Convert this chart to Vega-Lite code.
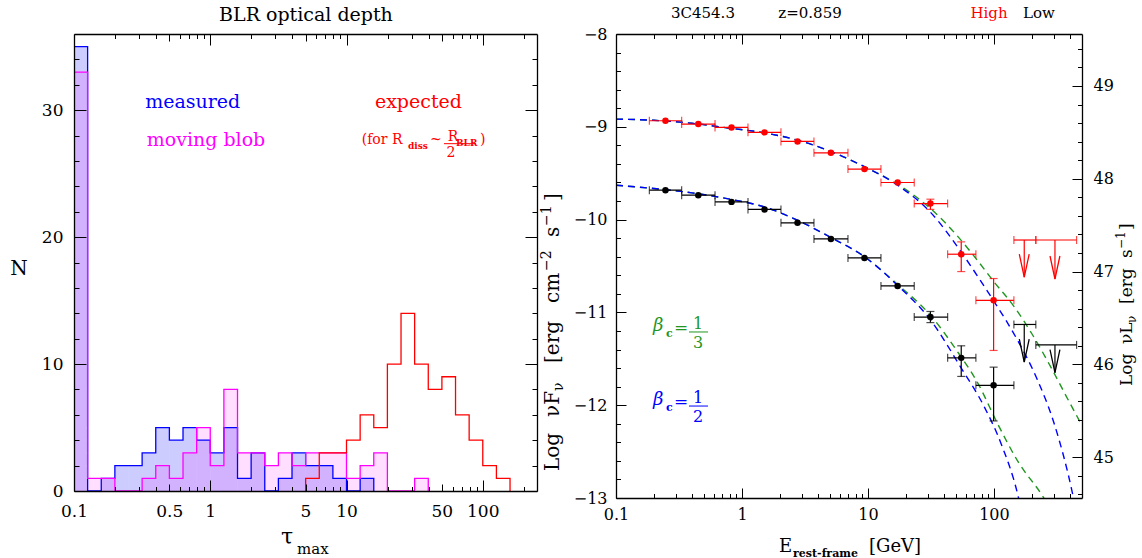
{
  "$schema": "https://vega.github.io/schema/vega-lite/v6.json",
  "background": "white",
  "padding": {"left": 10, "top": 5, "right": 5, "bottom": 5},
  "autosize": {"type": "pad"},
  "data": {"values": [{}]},
  "config": {"view": {"stroke": null}},
  "bounds": "flush",
  "spacing": 79,
  "datasets": {
    "hist": [
      {"s":"measured","t0":0.1,"t1":0.1259,"n":35},
      {"s":"measured","t0":0.1259,"t1":0.1585,"n":0},
      {"s":"measured","t0":0.1585,"t1":0.1995,"n":1},
      {"s":"measured","t0":0.1995,"t1":0.2512,"n":2},
      {"s":"measured","t0":0.2512,"t1":0.3162,"n":2},
      {"s":"measured","t0":0.3162,"t1":0.3981,"n":3},
      {"s":"measured","t0":0.3981,"t1":0.5012,"n":5},
      {"s":"measured","t0":0.5012,"t1":0.631,"n":4},
      {"s":"measured","t0":0.631,"t1":0.7943,"n":5},
      {"s":"measured","t0":0.7943,"t1":1,"n":4},
      {"s":"measured","t0":1,"t1":1.259,"n":3},
      {"s":"measured","t0":1.259,"t1":1.585,"n":5},
      {"s":"measured","t0":1.585,"t1":1.995,"n":1},
      {"s":"measured","t0":1.995,"t1":2.512,"n":3},
      {"s":"measured","t0":2.512,"t1":3.162,"n":0},
      {"s":"measured","t0":3.162,"t1":3.981,"n":1},
      {"s":"measured","t0":3.981,"t1":5.012,"n":3},
      {"s":"measured","t0":5.012,"t1":6.31,"n":2},
      {"s":"measured","t0":6.31,"t1":7.943,"n":2},
      {"s":"measured","t0":7.943,"t1":10,"n":1},
      {"s":"measured","t0":10,"t1":12.59,"n":0},
      {"s":"measured","t0":12.59,"t1":15.85,"n":1},
      {"s":"measured","t0":15.85,"t1":15.85,"n":0},
      {"s":"moving blob","t0":0.1,"t1":0.1259,"n":33},
      {"s":"moving blob","t0":0.1259,"t1":0.1585,"n":1},
      {"s":"moving blob","t0":0.1585,"t1":0.1995,"n":1},
      {"s":"moving blob","t0":0.1995,"t1":0.2512,"n":0},
      {"s":"moving blob","t0":0.2512,"t1":0.3162,"n":0},
      {"s":"moving blob","t0":0.3162,"t1":0.3981,"n":1},
      {"s":"moving blob","t0":0.3981,"t1":0.5012,"n":2},
      {"s":"moving blob","t0":0.5012,"t1":0.631,"n":1},
      {"s":"moving blob","t0":0.631,"t1":0.7943,"n":3},
      {"s":"moving blob","t0":0.7943,"t1":1,"n":5},
      {"s":"moving blob","t0":1,"t1":1.259,"n":2},
      {"s":"moving blob","t0":1.259,"t1":1.585,"n":8},
      {"s":"moving blob","t0":1.585,"t1":1.995,"n":3},
      {"s":"moving blob","t0":1.995,"t1":2.512,"n":3},
      {"s":"moving blob","t0":2.512,"t1":3.162,"n":2},
      {"s":"moving blob","t0":3.162,"t1":3.981,"n":3},
      {"s":"moving blob","t0":3.981,"t1":5.012,"n":2},
      {"s":"moving blob","t0":5.012,"t1":6.31,"n":3},
      {"s":"moving blob","t0":6.31,"t1":7.943,"n":3},
      {"s":"moving blob","t0":7.943,"t1":10,"n":3},
      {"s":"moving blob","t0":10,"t1":12.59,"n":1},
      {"s":"moving blob","t0":12.59,"t1":15.85,"n":2},
      {"s":"moving blob","t0":15.85,"t1":19.95,"n":3},
      {"s":"moving blob","t0":19.95,"t1":25.12,"n":0},
      {"s":"moving blob","t0":25.12,"t1":31.62,"n":0},
      {"s":"moving blob","t0":31.62,"t1":39.81,"n":1},
      {"s":"moving blob","t0":39.81,"t1":39.81,"n":0},
      {"s":"expected","t0":5.012,"t1":5.012,"n":0},
      {"s":"expected","t0":5.012,"t1":6.31,"n":1},
      {"s":"expected","t0":6.31,"t1":7.943,"n":3},
      {"s":"expected","t0":7.943,"t1":10,"n":3},
      {"s":"expected","t0":10,"t1":12.59,"n":4},
      {"s":"expected","t0":12.59,"t1":15.85,"n":6},
      {"s":"expected","t0":15.85,"t1":19.95,"n":5},
      {"s":"expected","t0":19.95,"t1":25.12,"n":10},
      {"s":"expected","t0":25.12,"t1":31.62,"n":14},
      {"s":"expected","t0":31.62,"t1":39.81,"n":10},
      {"s":"expected","t0":39.81,"t1":50.12,"n":8},
      {"s":"expected","t0":50.12,"t1":63.1,"n":9},
      {"s":"expected","t0":63.1,"t1":79.43,"n":6},
      {"s":"expected","t0":79.43,"t1":100,"n":4},
      {"s":"expected","t0":100,"t1":125.9,"n":2},
      {"s":"expected","t0":125.9,"t1":158.5,"n":1},
      {"s":"expected","t0":158.5,"t1":158.5,"n":0}
    ],
    "pts": [
      {"st":"High","E":0.247,"lo":0.184,"hi":0.332,"v":-8.935},
      {"st":"High","E":0.45,"lo":0.332,"hi":0.611,"v":-8.971},
      {"st":"High","E":0.826,"lo":0.611,"hi":1.116,"v":-9.007},
      {"st":"High","E":1.51,"lo":1.116,"hi":2.039,"v":-9.06},
      {"st":"High","E":2.76,"lo":2.039,"hi":3.727,"v":-9.158},
      {"st":"High","E":5.08,"lo":3.727,"hi":6.938,"v":-9.28},
      {"st":"High","E":9.38,"lo":6.938,"hi":12.68,"v":-9.456},
      {"st":"High","E":17.2,"lo":12.68,"hi":23.3,"v":-9.6},
      {"st":"High","E":31.3,"lo":23.3,"hi":42.9,"v":-9.827,"vlo":-9.89,"vhi":-9.78},
      {"st":"High","E":55,"lo":42.9,"hi":71.9,"v":-10.373,"vlo":-10.56,"vhi":-10.24},
      {"st":"High","E":99.4,"lo":71.9,"hi":144,"v":-10.87,"vlo":-11.41,"vhi":-10.635},
      {"st":"Low","E":0.247,"lo":0.184,"hi":0.332,"v":-9.683},
      {"st":"Low","E":0.45,"lo":0.332,"hi":0.611,"v":-9.737},
      {"st":"Low","E":0.826,"lo":0.611,"hi":1.116,"v":-9.809},
      {"st":"Low","E":1.51,"lo":1.116,"hi":2.039,"v":-9.89},
      {"st":"Low","E":2.76,"lo":2.039,"hi":3.727,"v":-10.035},
      {"st":"Low","E":5.08,"lo":3.727,"hi":6.938,"v":-10.208},
      {"st":"Low","E":9.38,"lo":6.938,"hi":12.68,"v":-10.413},
      {"st":"Low","E":17.2,"lo":12.68,"hi":23.3,"v":-10.715},
      {"st":"Low","E":31.3,"lo":23.3,"hi":42.9,"v":-11.05,"vlo":-11.11,"vhi":-10.99},
      {"st":"Low","E":55,"lo":42.9,"hi":71.9,"v":-11.49,"vlo":-11.69,"vhi":-11.36},
      {"st":"Low","E":99.4,"lo":71.9,"hi":144,"v":-11.786,"vlo":-12.17,"vhi":-11.59}
    ],
    "ul": [
      {"st":"High","E":174,"lo":144,"hi":215,"v":-10.22,"tip":-10.62},
      {"st":"High","E":305,"lo":215,"hi":453,"v":-10.22,"tip":-10.64},
      {"st":"Low","E":174,"lo":144,"hi":215,"v":-11.13,"tip":-11.535},
      {"st":"Low","E":305,"lo":215,"hi":453,"v":-11.35,"tip":-11.65}
    ],
    "curves": [
      {"m":"1/3","st":"High","E":0.1,"v":-8.917},
      {"m":"1/3","st":"High","E":0.2,"v":-8.93},
      {"m":"1/3","st":"High","E":0.4,"v":-8.962},
      {"m":"1/3","st":"High","E":0.8,"v":-9.015},
      {"m":"1/3","st":"High","E":1.5,"v":-9.065},
      {"m":"1/3","st":"High","E":2.75,"v":-9.143},
      {"m":"1/3","st":"High","E":5.08,"v":-9.266},
      {"m":"1/3","st":"High","E":9.38,"v":-9.43},
      {"m":"1/3","st":"High","E":17.2,"v":-9.62},
      {"m":"1/3","st":"High","E":31.3,"v":-9.88},
      {"m":"1/3","st":"High","E":50,"v":-10.16},
      {"m":"1/3","st":"High","E":75,"v":-10.45},
      {"m":"1/3","st":"High","E":100,"v":-10.67},
      {"m":"1/3","st":"High","E":145,"v":-10.94},
      {"m":"1/3","st":"High","E":200,"v":-11.23},
      {"m":"1/3","st":"High","E":283,"v":-11.59},
      {"m":"1/3","st":"High","E":384,"v":-11.93},
      {"m":"1/3","st":"High","E":500,"v":-12.22},
      {"m":"1/3","st":"Low","E":0.1,"v":-9.63},
      {"m":"1/3","st":"Low","E":0.2,"v":-9.665},
      {"m":"1/3","st":"Low","E":0.4,"v":-9.712},
      {"m":"1/3","st":"Low","E":0.8,"v":-9.78},
      {"m":"1/3","st":"Low","E":1.5,"v":-9.863},
      {"m":"1/3","st":"Low","E":2.75,"v":-10.006},
      {"m":"1/3","st":"Low","E":5.08,"v":-10.193},
      {"m":"1/3","st":"Low","E":9.38,"v":-10.4},
      {"m":"1/3","st":"Low","E":17.2,"v":-10.7},
      {"m":"1/3","st":"Low","E":31.3,"v":-11.03},
      {"m":"1/3","st":"Low","E":50,"v":-11.4},
      {"m":"1/3","st":"Low","E":75,"v":-11.77},
      {"m":"1/3","st":"Low","E":107,"v":-12.2},
      {"m":"1/3","st":"Low","E":154,"v":-12.6},
      {"m":"1/3","st":"Low","E":249,"v":-13.0},
      {"m":"1/3","st":"Low","E":270,"v":-13.08},
      {"m":"1/2","st":"High","E":0.1,"v":-8.917},
      {"m":"1/2","st":"High","E":0.2,"v":-8.93},
      {"m":"1/2","st":"High","E":0.4,"v":-8.962},
      {"m":"1/2","st":"High","E":0.8,"v":-9.015},
      {"m":"1/2","st":"High","E":1.5,"v":-9.065},
      {"m":"1/2","st":"High","E":2.75,"v":-9.143},
      {"m":"1/2","st":"High","E":5.08,"v":-9.266},
      {"m":"1/2","st":"High","E":9.38,"v":-9.43},
      {"m":"1/2","st":"High","E":17.2,"v":-9.63},
      {"m":"1/2","st":"High","E":31.3,"v":-9.92},
      {"m":"1/2","st":"High","E":55,"v":-10.35},
      {"m":"1/2","st":"High","E":75,"v":-10.62},
      {"m":"1/2","st":"High","E":100,"v":-10.88},
      {"m":"1/2","st":"High","E":154,"v":-11.3},
      {"m":"1/2","st":"High","E":222,"v":-11.73},
      {"m":"1/2","st":"High","E":301,"v":-12.2},
      {"m":"1/2","st":"High","E":421,"v":-12.955},
      {"m":"1/2","st":"High","E":440,"v":-13.08},
      {"m":"1/2","st":"Low","E":0.1,"v":-9.63},
      {"m":"1/2","st":"Low","E":0.2,"v":-9.665},
      {"m":"1/2","st":"Low","E":0.4,"v":-9.712},
      {"m":"1/2","st":"Low","E":0.8,"v":-9.78},
      {"m":"1/2","st":"Low","E":1.5,"v":-9.863},
      {"m":"1/2","st":"Low","E":2.75,"v":-10.006},
      {"m":"1/2","st":"Low","E":5.08,"v":-10.193},
      {"m":"1/2","st":"Low","E":9.38,"v":-10.4},
      {"m":"1/2","st":"Low","E":17.2,"v":-10.71},
      {"m":"1/2","st":"Low","E":31.3,"v":-11.08},
      {"m":"1/2","st":"Low","E":55,"v":-11.6},
      {"m":"1/2","st":"Low","E":84,"v":-12.02},
      {"m":"1/2","st":"Low","E":114,"v":-12.415},
      {"m":"1/2","st":"Low","E":154,"v":-12.955},
      {"m":"1/2","st":"Low","E":160,"v":-13.05}
    ]
  },
  "hconcat": [
    {
      "width": 463,
      "height": 457,
      "layer": [
        {
          "layer": [
            {
              "data": {"name": "hist"},
              "transform": [{"filter": "datum.s == 'measured'"}],
              "mark": {"type": "rect", "fill": "#0000ff", "fillOpacity": 0.2, "strokeWidth": 0},
              "encoding": {
                "x": {"field": "t0", "type": "quantitative", "scale": {"type": "log", "domain": [0.1, 250], "nice": false}, "axis": null},
                "x2": {"field": "t1"},
                "y": {"field": "n", "type": "quantitative", "scale": {"domain": [0, 36], "nice": false, "zero": false}, "axis": null},
                "y2": {"datum": 0}
              }
            },
            {
              "data": {"name": "hist"},
              "transform": [{"filter": "datum.s == 'moving blob'"}],
              "mark": {"type": "rect", "fill": "#ff00ff", "fillOpacity": 0.13, "strokeWidth": 0},
              "encoding": {
                "x": {"field": "t0", "type": "quantitative", "axis": null},
                "x2": {"field": "t1"},
                "y": {"field": "n", "type": "quantitative", "axis": null},
                "y2": {"datum": 0}
              }
            },
            {
              "data": {"name": "hist"},
              "mark": {"type": "line", "interpolate": "step-after", "strokeWidth": 1.3},
              "encoding": {
                "x": {"field": "t0", "type": "quantitative", "axis": null},
                "y": {"field": "n", "type": "quantitative", "axis": null},
                "color": {"field": "s", "type": "nominal", "scale": {"domain": ["measured", "moving blob", "expected"], "range": ["#0000ff", "#ff00ff", "#ff0000"]}, "legend": null}
              }
            },
            {"mark": {"type": "text", "text": "BLR optical depth", "font": "DejaVu Serif", "fontSize": 19, "color": "black", "align": "center", "baseline": "alphabetic"}, "encoding": {"x": {"datum": 5.04, "axis": null}, "y": {"datum": 37.05, "axis": null}}},
            {"mark": {"type": "text", "text": "measured", "font": "DejaVu Serif", "fontSize": 19, "color": "#0000ff", "align": "center", "baseline": "alphabetic"}, "encoding": {"x": {"datum": 0.743, "axis": null}, "y": {"datum": 30.15, "axis": null}}},
            {"mark": {"type": "text", "text": "moving blob", "font": "DejaVu Serif", "fontSize": 19, "color": "#ff00ff", "align": "center", "baseline": "alphabetic"}, "encoding": {"x": {"datum": 0.93, "axis": null}, "y": {"datum": 27.18, "axis": null}}},
            {"mark": {"type": "text", "text": "expected", "font": "DejaVu Serif", "fontSize": 19, "color": "#ff0000", "align": "center", "baseline": "alphabetic"}, "encoding": {"x": {"datum": 33.7, "axis": null}, "y": {"datum": 30.17, "axis": null}}},
            {"mark": {"type": "text", "text": "(for R", "font": "DejaVu Serif", "fontSize": 14, "color": "#ff0000", "align": "left", "baseline": "alphabetic"}, "encoding": {"x": {"datum": 12.92, "axis": null}, "y": {"datum": 27.31, "axis": null}}},
            {"mark": {"type": "text", "text": "diss", "font": "DejaVu Serif", "fontSize": 9, "fontWeight": "bold", "color": "#ff0000", "align": "left", "baseline": "alphabetic"}, "encoding": {"x": {"datum": 28.3, "axis": null}, "y": {"datum": 26.94, "axis": null}}},
            {"mark": {"type": "text", "text": "~", "font": "DejaVu Serif", "fontSize": 14, "color": "#ff0000", "align": "left", "baseline": "alphabetic"}, "encoding": {"x": {"datum": 41.0, "axis": null}, "y": {"datum": 27.34, "axis": null}}},
            {"mark": {"type": "text", "text": "R", "font": "DejaVu Serif", "fontSize": 14, "color": "#ff0000", "align": "left", "baseline": "alphabetic"}, "encoding": {"x": {"datum": 55.3, "axis": null}, "y": {"datum": 27.57, "axis": null}}},
            {"mark": {"type": "text", "text": "BLR", "font": "DejaVu Serif", "fontSize": 9, "fontWeight": "bold", "color": "#ff0000", "align": "left", "baseline": "alphabetic"}, "encoding": {"x": {"datum": 63.6, "axis": null}, "y": {"datum": 27.18, "axis": null}}},
            {"mark": {"type": "rule", "color": "#ff0000", "strokeWidth": 1}, "encoding": {"x": {"datum": 51.9, "axis": null}, "x2": {"datum": 89.2}, "y": {"datum": 27.36, "axis": null}}},
            {"mark": {"type": "text", "text": "2", "font": "DejaVu Serif", "fontSize": 14, "color": "#ff0000", "align": "center", "baseline": "alphabetic"}, "encoding": {"x": {"datum": 58.4, "axis": null}, "y": {"datum": 26.31, "axis": null}}},
            {"mark": {"type": "text", "text": ")", "font": "DejaVu Serif", "fontSize": 14, "color": "#ff0000", "align": "left", "baseline": "alphabetic"}, "encoding": {"x": {"datum": 95.4, "axis": null}, "y": {"datum": 27.34, "axis": null}}},
            {"mark": {"type": "text", "text": "N", "font": "DejaVu Serif", "fontSize": 20, "color": "black", "align": "center", "baseline": "middle"}, "encoding": {"x": {"datum": 0.0395, "axis": null}, "y": {"datum": 17.49, "axis": null}}},
            {"mark": {"type": "text", "text": "τ", "font": "DejaVu Serif", "fontSize": 22, "color": "black", "align": "center", "baseline": "alphabetic"}, "encoding": {"x": {"datum": 3.66, "axis": null}, "y": {"datum": -4.18, "axis": null}}},
            {"mark": {"type": "text", "text": "max", "font": "DejaVu Serif", "fontSize": 15, "color": "black", "align": "left", "baseline": "alphabetic"}, "encoding": {"x": {"datum": 4.33, "axis": null}, "y": {"datum": -4.96, "axis": null}}}
          ]
        },
        {
          "mark": {"type": "point", "opacity": 0},
          "encoding": {
            "x": {"datum": 1, "scale": {"type": "log", "domain": [0.1, 250], "nice": false},
                  "axis": {"orient": "bottom", "values": [0.1, 0.5, 1, 5, 10, 50, 100], "labelExpr": "format(datum.value, '~g')", "ticks": false, "domain": true, "domainColor": "black", "domainWidth": 1.3, "grid": false, "labelFont": "DejaVu Serif", "labelFontSize": 17, "labelColor": "black", "labelPadding": 12, "title": null, "labelFlush": false, "labelOverlap": false, "zindex": 1}},
            "y": {"datum": 10, "scale": {"domain": [0, 36], "nice": false, "zero": false},
                  "axis": {"orient": "left", "values": [0, 10, 20, 30], "ticks": false, "domain": true, "domainColor": "black", "domainWidth": 1.3, "grid": false, "labelFont": "DejaVu Serif", "labelFontSize": 17, "labelColor": "black", "labelPadding": 11, "title": null, "labelFlush": false, "labelOverlap": false, "zindex": 1}}
          }
        },
        {
          "mark": {"type": "point", "opacity": 0},
          "encoding": {
            "x": {"datum": 1, "scale": {"type": "log", "domain": [0.1, 250], "nice": false},
                  "axis": {"orient": "bottom", "values": [0.1,0.2,0.3,0.4,0.5,0.6,0.7,0.8,0.9,1,2,3,4,5,6,7,8,9,10,20,30,40,50,60,70,80,90,100,200], "labels": false, "domain": false, "grid": false, "title": null, "tickColor": "black", "tickWidth": 1,
                           "tickSize": {"condition": [{"test": "indexof([0.1,1,10,100], datum.value) >= 0", "value": -11}, {"test": "indexof([0.5,5,50], datum.value) >= 0", "value": -7}], "value": -4.5}, "zindex": 1}},
            "y": {"datum": 10, "scale": {"domain": [0, 36], "nice": false, "zero": false},
                  "axis": {"orient": "left", "values": [0,2,4,6,8,10,12,14,16,18,20,22,24,26,28,30,32,34], "labels": false, "domain": false, "grid": false, "title": null, "tickColor": "black", "tickWidth": 1,
                           "tickSize": {"condition": {"test": "datum.value % 10 == 0", "value": -12}, "value": -5}, "zindex": 1}}
          }
        },
        {
          "mark": {"type": "point", "opacity": 0},
          "encoding": {
            "x": {"datum": 1, "scale": {"type": "log", "domain": [0.1, 250], "nice": false},
                  "axis": {"orient": "top", "values": [0.1,0.2,0.3,0.4,0.5,0.6,0.7,0.8,0.9,1,2,3,4,5,6,7,8,9,10,20,30,40,50,60,70,80,90,100,200], "labels": false, "domain": true, "domainColor": "black", "domainWidth": 1.3, "grid": false, "title": null, "tickColor": "black", "tickWidth": 1,
                           "tickSize": {"condition": [{"test": "indexof([0.1,1,10,100], datum.value) >= 0", "value": -11}, {"test": "indexof([0.5,5,50], datum.value) >= 0", "value": -7}], "value": -4.5}, "zindex": 1}},
            "y": {"datum": 10, "scale": {"domain": [0, 36], "nice": false, "zero": false},
                  "axis": {"orient": "right", "values": [0,2,4,6,8,10,12,14,16,18,20,22,24,26,28,30,32,34], "labels": false, "domain": true, "domainColor": "black", "domainWidth": 1.3, "grid": false, "title": null, "tickColor": "black", "tickWidth": 1,
                           "tickSize": {"condition": {"test": "datum.value % 10 == 0", "value": -12}, "value": -5}, "zindex": 1}}
          }
        }
      ],
      "resolve": {"scale": {"x": "independent", "y": "independent"}}
    },
    {
      "width": 466,
      "height": 464,
      "layer": [
        {
          "layer": [
            {
              "data": {"name": "curves"},
              "mark": {"type": "line", "clip": true, "strokeDash": [7, 5], "strokeWidth": 1.4, "interpolate": "monotone"},
              "encoding": {
                "x": {"field": "E", "type": "quantitative", "scale": {"type": "log", "domain": [0.1, 500], "nice": false}, "axis": null},
                "y": {"field": "v", "type": "quantitative", "scale": {"domain": [-13, -8], "nice": false, "zero": false}, "axis": null},
                "color": {"field": "m", "type": "nominal", "scale": {"domain": ["1/3", "1/2"], "range": ["#1f961f", "#0000ff"]}, "legend": null},
                "detail": {"field": "st"}
              }
            },
            {
              "data": {"name": "pts"},
              "mark": {"type": "rule", "strokeWidth": 1.2},
              "encoding": {
                "x": {"field": "lo", "type": "quantitative", "axis": null}, "x2": {"field": "hi"},
                "y": {"field": "v", "type": "quantitative", "axis": null},
                "color": {"field": "st", "type": "nominal", "scale": {"domain": ["High", "Low"], "range": ["#ff0000", "#000000"]}, "legend": null}
              }
            },
            {
              "data": {"name": "pts"},
              "mark": {"type": "tick", "orient": "vertical", "size": 8, "thickness": 1.2},
              "encoding": {
                "x": {"field": "lo", "type": "quantitative", "axis": null},
                "y": {"field": "v", "type": "quantitative", "axis": null},
                "color": {"field": "st", "type": "nominal", "scale": {"domain": ["High", "Low"], "range": ["#ff0000", "#000000"]}, "legend": null}
              }
            },
            {
              "data": {"name": "pts"},
              "mark": {"type": "tick", "orient": "vertical", "size": 8, "thickness": 1.2},
              "encoding": {
                "x": {"field": "hi", "type": "quantitative", "axis": null},
                "y": {"field": "v", "type": "quantitative", "axis": null},
                "color": {"field": "st", "type": "nominal", "scale": {"domain": ["High", "Low"], "range": ["#ff0000", "#000000"]}, "legend": null}
              }
            },
            {
              "data": {"name": "pts"},
              "transform": [{"filter": "isValid(datum.vlo)"}],
              "mark": {"type": "rule", "strokeWidth": 1.2},
              "encoding": {
                "x": {"field": "E", "type": "quantitative", "axis": null},
                "y": {"field": "vlo", "type": "quantitative", "axis": null}, "y2": {"field": "vhi"},
                "color": {"field": "st", "type": "nominal", "scale": {"domain": ["High", "Low"], "range": ["#ff0000", "#000000"]}, "legend": null}
              }
            },
            {
              "data": {"name": "pts"},
              "transform": [{"filter": "isValid(datum.vlo)"}],
              "mark": {"type": "tick", "orient": "horizontal", "size": 8, "thickness": 1.2},
              "encoding": {
                "x": {"field": "E", "type": "quantitative", "axis": null},
                "y": {"field": "vlo", "type": "quantitative", "axis": null},
                "color": {"field": "st", "type": "nominal", "scale": {"domain": ["High", "Low"], "range": ["#ff0000", "#000000"]}, "legend": null}
              }
            },
            {
              "data": {"name": "pts"},
              "transform": [{"filter": "isValid(datum.vlo)"}],
              "mark": {"type": "tick", "orient": "horizontal", "size": 8, "thickness": 1.2},
              "encoding": {
                "x": {"field": "E", "type": "quantitative", "axis": null},
                "y": {"field": "vhi", "type": "quantitative", "axis": null},
                "color": {"field": "st", "type": "nominal", "scale": {"domain": ["High", "Low"], "range": ["#ff0000", "#000000"]}, "legend": null}
              }
            },
            {
              "data": {"name": "pts"},
              "mark": {"type": "circle", "size": 42, "opacity": 1},
              "encoding": {
                "x": {"field": "E", "type": "quantitative", "axis": null},
                "y": {"field": "v", "type": "quantitative", "axis": null},
                "color": {"field": "st", "type": "nominal", "scale": {"domain": ["High", "Low"], "range": ["#ff0000", "#000000"]}, "legend": null}
              }
            },
            {
              "data": {"name": "ul"},
              "mark": {"type": "rule", "strokeWidth": 1.2},
              "encoding": {
                "x": {"field": "lo", "type": "quantitative", "axis": null}, "x2": {"field": "hi"},
                "y": {"field": "v", "type": "quantitative", "axis": null},
                "color": {"field": "st", "type": "nominal", "scale": {"domain": ["High", "Low"], "range": ["#ff0000", "#000000"]}, "legend": null}
              }
            },
            {
              "data": {"name": "ul"},
              "mark": {"type": "tick", "orient": "vertical", "size": 8, "thickness": 1.2},
              "encoding": {
                "x": {"field": "lo", "type": "quantitative", "axis": null},
                "y": {"field": "v", "type": "quantitative", "axis": null},
                "color": {"field": "st", "type": "nominal", "scale": {"domain": ["High", "Low"], "range": ["#ff0000", "#000000"]}, "legend": null}
              }
            },
            {
              "data": {"name": "ul"},
              "mark": {"type": "tick", "orient": "vertical", "size": 8, "thickness": 1.2},
              "encoding": {
                "x": {"field": "hi", "type": "quantitative", "axis": null},
                "y": {"field": "v", "type": "quantitative", "axis": null},
                "color": {"field": "st", "type": "nominal", "scale": {"domain": ["High", "Low"], "range": ["#ff0000", "#000000"]}, "legend": null}
              }
            },
            {
              "data": {"name": "ul"},
              "mark": {"type": "rule", "strokeWidth": 1.2},
              "encoding": {
                "x": {"field": "E", "type": "quantitative", "axis": null},
                "y": {"field": "v", "type": "quantitative", "axis": null}, "y2": {"field": "tip"},
                "color": {"field": "st", "type": "nominal", "scale": {"domain": ["High", "Low"], "range": ["#ff0000", "#000000"]}, "legend": null}
              }
            },
            {
              "data": {"name": "ul"},
              "mark": {"type": "point", "shape": "M -0.43 -2 L 0 0 L 0.43 -2", "size": 529, "filled": false, "strokeWidth": 1.3, "opacity": 1},
              "encoding": {
                "x": {"field": "E", "type": "quantitative", "axis": null},
                "y": {"field": "tip", "type": "quantitative", "axis": null},
                "color": {"field": "st", "type": "nominal", "scale": {"domain": ["High", "Low"], "range": ["#ff0000", "#000000"]}, "legend": null}
              }
            },
            {"mark": {"type": "text", "text": "3C454.3", "font": "DejaVu Serif", "fontSize": 15, "color": "black", "align": "center", "baseline": "alphabetic"}, "encoding": {"x": {"datum": 0.49, "axis": null}, "y": {"datum": -7.8254, "axis": null}}},
            {"mark": {"type": "text", "text": "z=0.859", "font": "DejaVu Serif", "fontSize": 15, "color": "black", "align": "center", "baseline": "alphabetic"}, "encoding": {"x": {"datum": 3.467, "axis": null}, "y": {"datum": -7.8254, "axis": null}}},
            {"mark": {"type": "text", "text": "High", "font": "DejaVu Serif", "fontSize": 15, "color": "#ff0000", "align": "center", "baseline": "alphabetic"}, "encoding": {"x": {"datum": 91.4, "axis": null}, "y": {"datum": -7.8254, "axis": null}}},
            {"mark": {"type": "text", "text": "Low", "font": "DejaVu Serif", "fontSize": 15, "color": "black", "align": "center", "baseline": "alphabetic"}, "encoding": {"x": {"datum": 228, "axis": null}, "y": {"datum": -7.8254, "axis": null}}},
            {"mark": {"type": "text", "text": "β", "font": "DejaVu Serif", "fontSize": 18, "fontStyle": "italic", "color": "#1f961f", "align": "left", "baseline": "alphabetic"}, "encoding": {"x": {"datum": 0.1967, "axis": null}, "y": {"datum": -11.2, "axis": null}}},
            {"mark": {"type": "text", "text": "c", "font": "DejaVu Serif", "fontSize": 11, "fontWeight": "bold", "color": "#1f961f", "align": "left", "baseline": "alphabetic"}, "encoding": {"x": {"datum": 0.2494, "axis": null}, "y": {"datum": -11.265, "axis": null}}},
            {"mark": {"type": "text", "text": "=", "font": "DejaVu Serif", "fontSize": 17, "color": "#1f961f", "align": "left", "baseline": "alphabetic"}, "encoding": {"x": {"datum": 0.2886, "axis": null}, "y": {"datum": -11.222, "axis": null}}},
            {"mark": {"type": "rule", "color": "#1f961f", "strokeWidth": 1}, "encoding": {"x": {"datum": 0.3798, "axis": null}, "x2": {"datum": 0.5374}, "y": {"datum": -11.211, "axis": null}}},
            {"mark": {"type": "text", "text": "1", "font": "DejaVu Serif", "fontSize": 16, "color": "#1f961f", "align": "center", "baseline": "alphabetic"}, "encoding": {"x": {"datum": 0.4477, "axis": null}, "y": {"datum": -11.179, "axis": null}}},
            {"mark": {"type": "text", "text": "3", "font": "DejaVu Serif", "fontSize": 16, "color": "#1f961f", "align": "center", "baseline": "alphabetic"}, "encoding": {"x": {"datum": 0.4477, "axis": null}, "y": {"datum": -11.384, "axis": null}}},
            {"mark": {"type": "text", "text": "β", "font": "DejaVu Serif", "fontSize": 18, "fontStyle": "italic", "color": "#0000ff", "align": "left", "baseline": "alphabetic"}, "encoding": {"x": {"datum": 0.1967, "axis": null}, "y": {"datum": -11.998, "axis": null}}},
            {"mark": {"type": "text", "text": "c", "font": "DejaVu Serif", "fontSize": 11, "fontWeight": "bold", "color": "#0000ff", "align": "left", "baseline": "alphabetic"}, "encoding": {"x": {"datum": 0.2494, "axis": null}, "y": {"datum": -12.063, "axis": null}}},
            {"mark": {"type": "text", "text": "=", "font": "DejaVu Serif", "fontSize": 17, "color": "#0000ff", "align": "left", "baseline": "alphabetic"}, "encoding": {"x": {"datum": 0.2886, "axis": null}, "y": {"datum": -12.019, "axis": null}}},
            {"mark": {"type": "rule", "color": "#0000ff", "strokeWidth": 1}, "encoding": {"x": {"datum": 0.3798, "axis": null}, "x2": {"datum": 0.5374}, "y": {"datum": -12.009, "axis": null}}},
            {"mark": {"type": "text", "text": "1", "font": "DejaVu Serif", "fontSize": 16, "color": "#0000ff", "align": "center", "baseline": "alphabetic"}, "encoding": {"x": {"datum": 0.4477, "axis": null}, "y": {"datum": -11.976, "axis": null}}},
            {"mark": {"type": "text", "text": "2", "font": "DejaVu Serif", "fontSize": 16, "color": "#0000ff", "align": "center", "baseline": "alphabetic"}, "encoding": {"x": {"datum": 0.4477, "axis": null}, "y": {"datum": -12.181, "axis": null}}},
            {"mark": {"type": "text", "text": "E", "font": "DejaVu Serif", "fontSize": 18, "color": "black", "align": "left", "baseline": "alphabetic"}, "encoding": {"x": {"datum": 1.967, "axis": null}, "y": {"datum": -13.582, "axis": null}}},
            {"mark": {"type": "text", "text": "rest-frame", "font": "DejaVu Serif", "fontSize": 11, "fontWeight": "bold", "color": "black", "align": "left", "baseline": "alphabetic"}, "encoding": {"x": {"datum": 2.541, "axis": null}, "y": {"datum": -13.636, "axis": null}}},
            {"mark": {"type": "text", "text": "[GeV]", "font": "DejaVu Serif", "fontSize": 18, "color": "black", "align": "left", "baseline": "alphabetic"}, "encoding": {"x": {"datum": 10.19, "axis": null}, "y": {"datum": -13.582, "axis": null}}},
            {"mark": {"type": "text", "text": "Log", "angle": 270, "font": "DejaVu Serif", "fontSize": 20, "color": "black", "align": "left", "baseline": "alphabetic"}, "encoding": {"x": {"datum": 0.03527, "axis": null}, "y": {"datum": -12.709, "axis": null}}},
            {"mark": {"type": "text", "text": "νF", "angle": 270, "font": "DejaVu Serif", "fontSize": 20, "color": "black", "align": "left", "baseline": "alphabetic"}, "encoding": {"x": {"datum": 0.03527, "axis": null}, "y": {"datum": -12.127, "axis": null}}},
            {"mark": {"type": "text", "text": "ν", "angle": 270, "dy": 4, "font": "DejaVu Serif", "fontSize": 14, "color": "black", "align": "left", "baseline": "alphabetic"}, "encoding": {"x": {"datum": 0.03527, "axis": null}, "y": {"datum": -11.847, "axis": null}}},
            {"mark": {"type": "text", "text": "[erg", "angle": 270, "font": "DejaVu Serif", "fontSize": 20, "color": "black", "align": "left", "baseline": "alphabetic"}, "encoding": {"x": {"datum": 0.03527, "axis": null}, "y": {"datum": -11.545, "axis": null}}},
            {"mark": {"type": "text", "text": "cm", "angle": 270, "font": "DejaVu Serif", "fontSize": 20, "color": "black", "align": "left", "baseline": "alphabetic"}, "encoding": {"x": {"datum": 0.03527, "axis": null}, "y": {"datum": -10.899, "axis": null}}},
            {"mark": {"type": "text", "text": "−2", "angle": 270, "dy": -8, "font": "DejaVu Serif", "fontSize": 14, "color": "black", "align": "left", "baseline": "alphabetic"}, "encoding": {"x": {"datum": 0.03527, "axis": null}, "y": {"datum": -10.554, "axis": null}}},
            {"mark": {"type": "text", "text": "s", "angle": 270, "font": "DejaVu Serif", "fontSize": 20, "color": "black", "align": "left", "baseline": "alphabetic"}, "encoding": {"x": {"datum": 0.03527, "axis": null}, "y": {"datum": -10.188, "axis": null}}},
            {"mark": {"type": "text", "text": "−1", "angle": 270, "dy": -8, "font": "DejaVu Serif", "fontSize": 14, "color": "black", "align": "left", "baseline": "alphabetic"}, "encoding": {"x": {"datum": 0.03527, "axis": null}, "y": {"datum": -10.069, "axis": null}}},
            {"mark": {"type": "text", "text": "]", "angle": 270, "font": "DejaVu Serif", "fontSize": 20, "color": "black", "align": "left", "baseline": "alphabetic"}, "encoding": {"x": {"datum": 0.03527, "axis": null}, "y": {"datum": -9.8, "axis": null}}},
            {"mark": {"type": "text", "text": "Log", "angle": 270, "font": "DejaVu Serif", "fontSize": 17, "color": "black", "align": "left", "baseline": "alphabetic"}, "encoding": {"x": {"datum": 1247, "axis": null}, "y": {"datum": -11.793, "axis": null}}},
            {"mark": {"type": "text", "text": "νL", "angle": 270, "font": "DejaVu Serif", "fontSize": 17, "color": "black", "align": "left", "baseline": "alphabetic"}, "encoding": {"x": {"datum": 1247, "axis": null}, "y": {"datum": -11.341, "axis": null}}},
            {"mark": {"type": "text", "text": "ν", "angle": 270, "dy": 4, "font": "DejaVu Serif", "fontSize": 12, "color": "black", "align": "left", "baseline": "alphabetic"}, "encoding": {"x": {"datum": 1247, "axis": null}, "y": {"datum": -11.114, "axis": null}}},
            {"mark": {"type": "text", "text": "[erg", "angle": 270, "font": "DejaVu Serif", "fontSize": 17, "color": "black", "align": "left", "baseline": "alphabetic"}, "encoding": {"x": {"datum": 1247, "axis": null}, "y": {"datum": -10.909, "axis": null}}},
            {"mark": {"type": "text", "text": "s", "angle": 270, "font": "DejaVu Serif", "fontSize": 17, "color": "black", "align": "left", "baseline": "alphabetic"}, "encoding": {"x": {"datum": 1247, "axis": null}, "y": {"datum": -10.414, "axis": null}}},
            {"mark": {"type": "text", "text": "−1", "angle": 270, "dy": -7, "font": "DejaVu Serif", "fontSize": 12, "color": "black", "align": "left", "baseline": "alphabetic"}, "encoding": {"x": {"datum": 1247, "axis": null}, "y": {"datum": -10.317, "axis": null}}},
            {"mark": {"type": "text", "text": "]", "angle": 270, "font": "DejaVu Serif", "fontSize": 17, "color": "black", "align": "left", "baseline": "alphabetic"}, "encoding": {"x": {"datum": 1247, "axis": null}, "y": {"datum": -10.112, "axis": null}}}
          ],
          "resolve": {"scale": {"color": "independent"}}
        },
        {
          "mark": {"type": "point", "opacity": 0},
          "encoding": {
            "x": {"datum": 1, "scale": {"type": "log", "domain": [0.1, 500], "nice": false},
                  "axis": {"orient": "bottom", "values": [0.1, 1, 10, 100], "labelExpr": "format(datum.value, '~g')", "ticks": false, "domain": true, "domainColor": "black", "domainWidth": 1.3, "grid": false, "labelFont": "DejaVu Serif", "labelFontSize": 16, "labelColor": "black", "labelPadding": 8, "title": null, "labelFlush": false, "labelOverlap": false, "zindex": 1}},
            "y": {"datum": -10, "scale": {"domain": [-13, -8], "nice": false, "zero": false},
                  "axis": {"orient": "left", "values": [-13, -12, -11, -10, -9, -8], "ticks": false, "domain": true, "domainColor": "black", "domainWidth": 1.3, "grid": false, "labelFont": "DejaVu Serif", "labelFontSize": 16, "labelColor": "black", "labelPadding": 9, "title": null, "labelFlush": false, "labelOverlap": false, "zindex": 1}}
          }
        },
        {
          "mark": {"type": "point", "opacity": 0},
          "encoding": {
            "x": {"datum": 1, "scale": {"type": "log", "domain": [0.1, 500], "nice": false},
                  "axis": {"orient": "bottom", "values": [0.1,0.2,0.3,0.4,0.5,0.6,0.7,0.8,0.9,1,2,3,4,5,6,7,8,9,10,20,30,40,50,60,70,80,90,100,200,300,400], "labels": false, "domain": false, "grid": false, "title": null, "tickColor": "black", "tickWidth": 1,
                           "tickSize": {"condition": {"test": "indexof([0.1,1,10,100], datum.value) >= 0", "value": -10}, "value": -4.5}, "zindex": 1}},
            "y": {"datum": -10, "scale": {"domain": [-13, -8], "nice": false, "zero": false},
                  "axis": {"orient": "left", "values": [-13,-12.8,-12.6,-12.4,-12.2,-12,-11.8,-11.6,-11.4,-11.2,-11,-10.8,-10.6,-10.4,-10.2,-10,-9.8,-9.6,-9.4,-9.2,-9,-8.8,-8.6,-8.4,-8.2,-8], "labels": false, "domain": false, "grid": false, "title": null, "tickColor": "black", "tickWidth": 1,
                           "tickSize": {"condition": {"test": "abs(datum.value - round(datum.value)) < 0.001", "value": -10}, "value": -4.5}, "zindex": 1}}
          }
        },
        {
          "mark": {"type": "point", "opacity": 0},
          "encoding": {
            "x": {"datum": 1, "scale": {"type": "log", "domain": [0.1, 500], "nice": false},
                  "axis": {"orient": "top", "values": [0.1,0.2,0.3,0.4,0.5,0.6,0.7,0.8,0.9,1,2,3,4,5,6,7,8,9,10,20,30,40,50,60,70,80,90,100,200,300,400], "labels": false, "domain": true, "domainColor": "black", "domainWidth": 1.3, "grid": false, "title": null, "tickColor": "black", "tickWidth": 1,
                           "tickSize": {"condition": {"test": "indexof([0.1,1,10,100], datum.value) >= 0", "value": -10}, "value": -4.5}, "zindex": 1}},
            "y": {"datum": 47, "scale": {"domain": [44.56, 49.56], "nice": false, "zero": false},
                  "axis": {"orient": "right", "values": [44.6,44.8,45,45.2,45.4,45.6,45.8,46,46.2,46.4,46.6,46.8,47,47.2,47.4,47.6,47.8,48,48.2,48.4,48.6,48.8,49,49.2,49.4], "labels": false, "domain": true, "domainColor": "black", "domainWidth": 1.3, "grid": false, "title": null, "tickColor": "black", "tickWidth": 1,
                           "tickSize": {"condition": {"test": "abs(datum.value - round(datum.value)) < 0.001", "value": -10}, "value": -4.5}, "zindex": 1}}
          }
        },
        {
          "mark": {"type": "point", "opacity": 0},
          "encoding": {
            "x": {"datum": 1, "scale": {"type": "log", "domain": [0.1, 500], "nice": false}, "axis": null},
            "y": {"datum": 47, "scale": {"domain": [44.56, 49.56], "nice": false, "zero": false},
                  "axis": {"orient": "right", "values": [45, 46, 47, 48, 49], "ticks": false, "domain": false, "grid": false, "labelFont": "DejaVu Serif", "labelFontSize": 16, "labelColor": "black", "labelPadding": 11, "title": null, "labelFlush": false, "labelOverlap": false}}
          }
        }
      ],
      "resolve": {"scale": {"x": "independent", "y": "independent"}}
    }
  ]
}
